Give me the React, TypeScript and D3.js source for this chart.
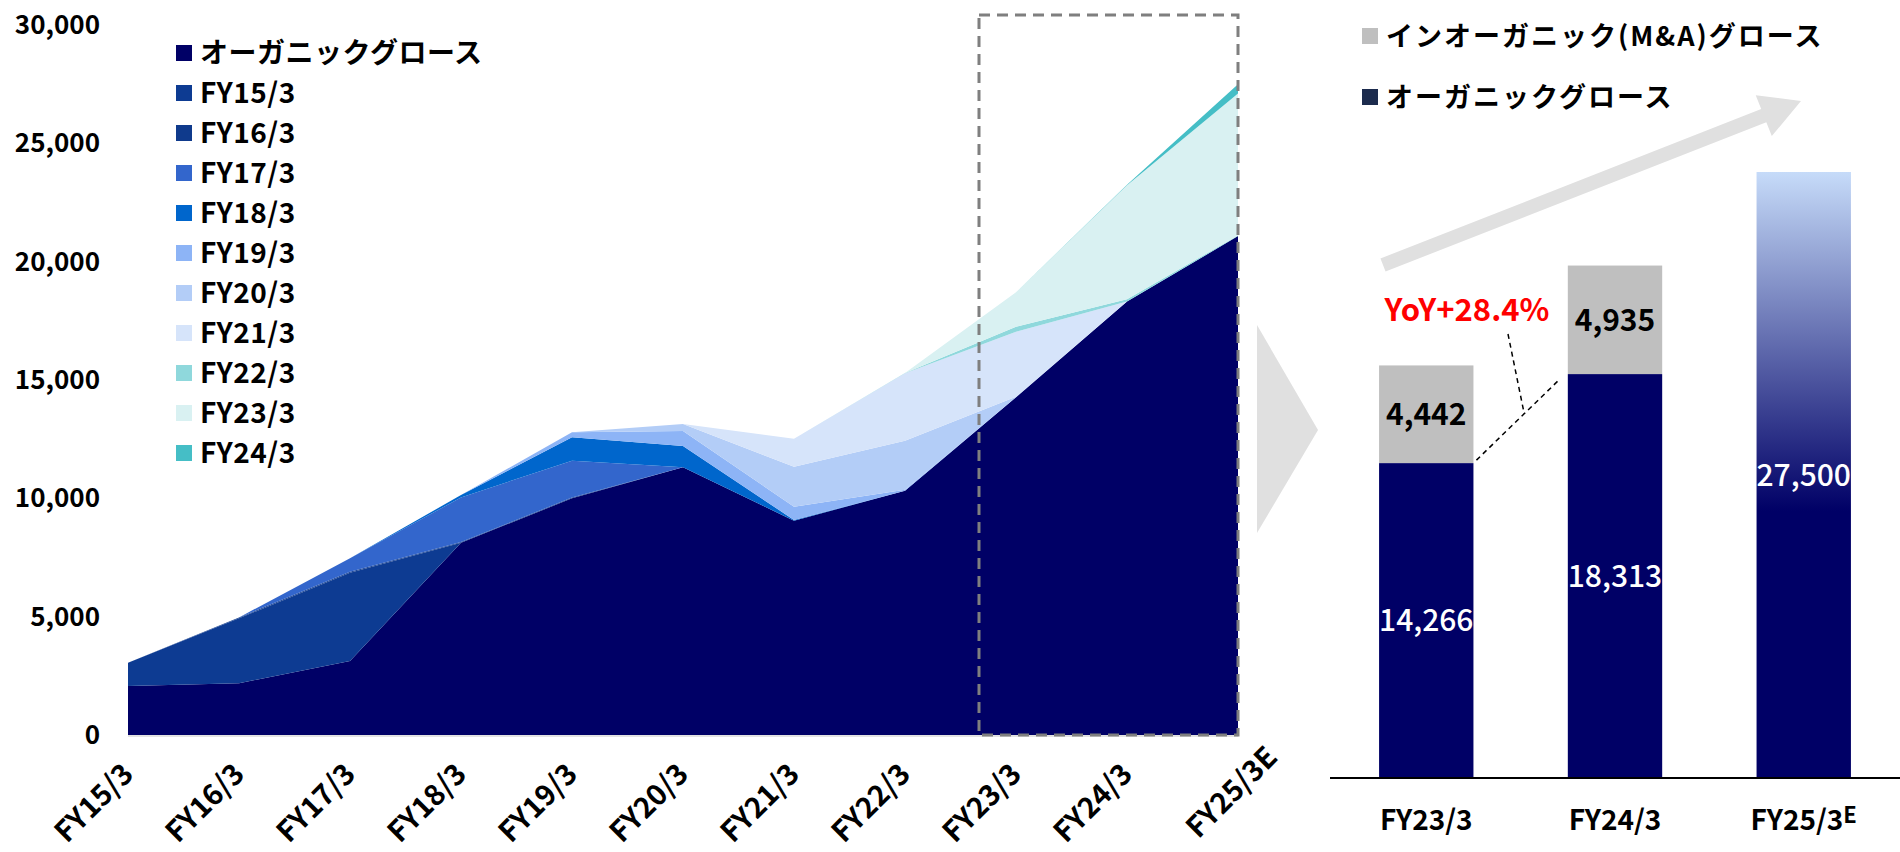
import React from 'react';
import * as d3 from 'd3';

// left chart: organic base + acquisition cohorts by year
const years = ['FY15/3', 'FY16/3', 'FY17/3', 'FY18/3', 'FY19/3', 'FY20/3', 'FY21/3', 'FY22/3', 'FY23/3', 'FY24/3', 'FY25/3E'];
const seriesNames = ['オーガニックグロース', 'FY15/3', 'FY16/3', 'FY17/3', 'FY18/3', 'FY19/3', 'FY20/3', 'FY21/3', 'FY22/3', 'FY23/3', 'FY24/3'];
const seriesColors = ['#000066', '#0d3b92', '#0f3a8c', '#3366cc', '#0066cc', '#8db4f6', '#b3cdf7', '#d6e4fa', '#8fd8dc', '#d9f1f2', '#45bec6'];

const organic = [2070, 2190, 3130, 8125, 10000, 11310, 9055, 10320, 14266, 18313, 21080];
const fy15 = [985, 2740, 3727, 0, 0, 0, 0, 0, 0, 0, 0];
const fy16 = [0, 40, 40, 30, 30, 0, 0, 0, 0, 0, 0];
const fy17 = [0, 0, 568, 1885, 1560, 0, 0, 0, 0, 0, 0];
const fy18 = [0, 0, 0, 100, 990, 900, 30, 0, 0, 0, 0];
const fy19 = [0, 0, 0, 0, 210, 630, 560, 40, 0, 0, 0];
const fy20 = [0, 0, 0, 0, 0, 300, 1690, 2070, 30, 0, 0];
const fy21 = [0, 0, 0, 0, 0, 0, 1185, 2850, 2744, 0, 0];
const fy22 = [0, 0, 0, 0, 0, 0, 0, 20, 210, 100, 30];
const fy23 = [0, 0, 0, 0, 0, 0, 0, 0, 1458, 4815, 6000];
const fy24 = [0, 0, 0, 0, 0, 0, 0, 0, 0, 20, 390];

const yTicks = [0, 5000, 10000, 15000, 20000, 25000, 30000];

// right chart
const barYears = ['FY23/3', 'FY24/3', 'FY25/3'];
const barOrganic = [14266, 18313];
const barInorganic = [4442, 4935];
const forecastTotal = 27500;
const barLegend = ['インオーガニック(M&A)グロース', 'オーガニックグロース'];
const barLegendColors = ['#bfbfbf', '#1c2b4d'];
const yoyLabel = 'YoY+28.4%';

const FONT = "'Noto Sans CJK JP', 'Noto Sans', sans-serif";
const fmt = d3.format(',');

const App: React.FC = () => {
    const allSeries = [organic, fy15, fy16, fy17, fy18, fy19, fy20, fy21, fy22, fy23, fy24];
    const rows = years.map((yr, i) => {
        const r: Record<string, number> = {};
        allSeries.forEach((s, k) => { r[String(k)] = s[i]; });
        return r;
    });
    const keys = allSeries.map((_, k) => String(k));
    const stacked = d3.stack<Record<string, number>>().keys(keys)(rows);

    const x = d3.scalePoint<string>().domain(years).range([128, 1238]);
    const y = d3.scaleLinear().domain([0, 30000]).range([735, 25]);

    const area = d3.area<d3.SeriesPoint<Record<string, number>>>()
        .x((_, i) => x(years[i]) as number)
        .y0(d => y(d[0]))
        .y1(d => y(d[1]));

    const step = x.step();
    const boxLeft = (x('FY23/3') as number) - step / 3;
    const boxRight = x('FY25/3E') as number;

    // right bars
    const bx = d3.scaleBand<string>().domain(barYears).range([1330, 1900]).paddingInner(0.5).paddingOuter(0.26);
    const by = d3.scaleLinear().domain([0, 30000]).range([777, 117]);
    const bw = bx.bandwidth();

    // leader lines between organic tops
    const ax0 = (bx('FY23/3') as number) + bw + 3;
    const ay0 = by(barOrganic[0]) - 3;
    const ax1 = (bx('FY24/3') as number) - 9;
    const ay1 = by(barOrganic[1]) + 6;
    const t = 0.58;
    const vx = ax0 + (ax1 - ax0) * t;
    const vy = ay0 + (ay1 - ay0) * t;

    // big arrow
    const tail: [number, number] = [1383, 265];
    const tip: [number, number] = [1801, 101];
    const ang = Math.atan2(tip[1] - tail[1], tip[0] - tail[0]);
    const ux = Math.cos(ang), uy = Math.sin(ang);
    const nx = -uy, ny = ux;
    const shaft = 7, head = 22, headLen = 40;
    const hb: [number, number] = [tip[0] - ux * headLen, tip[1] - uy * headLen];
    const arrowPts = [
        [tail[0] + nx * shaft, tail[1] + ny * shaft],
        [hb[0] + nx * shaft, hb[1] + ny * shaft],
        [hb[0] + nx * head, hb[1] + ny * head],
        tip,
        [hb[0] - nx * head, hb[1] - ny * head],
        [hb[0] - nx * shaft, hb[1] - ny * shaft],
        [tail[0] - nx * shaft, tail[1] - ny * shaft],
    ].map(p => p.join(',')).join(' ');

    return (
        <div style={{ position: 'absolute', left: 0, top: 0 }}>
            <svg width={1900} height={852} style={{ display: 'block', fontFamily: FONT }}>
                <defs>
                    <linearGradient id="fcst" x1="0" y1="0" x2="0" y2="1">
                        <stop offset="0%" stopColor="#c6dbf9" />
                        <stop offset="56%" stopColor="#000066" />
                        <stop offset="100%" stopColor="#000066" />
                    </linearGradient>
                </defs>

                {/* stacked areas */}
                {stacked.map((s, k) => (
                    <path key={k} d={area(s) || ''} fill={seriesColors[k]} />
                ))}
                <line x1={128} x2={1238} y1={736} y2={736} stroke="#d9d9d9" strokeWidth={1.5} />

                {/* y axis labels */}
                {yTicks.map(v => (
                    <text key={v} x={100} y={y(v) + 9} textAnchor="end" fontSize={26} fontWeight={700} fill="#000">
                        {fmt(v)}
                    </text>
                ))}

                {/* x axis labels (last one pushed up along its direction to stay on the page) */}
                {years.map((yr, i) => {
                    const last = i === years.length - 1;
                    const dx = last ? 34 : 0;
                    const dy = last ? -17 : 0;
                    return (
                        <text key={yr} transform={`translate(${(x(yr) as number) + 7 + dx},${776 + dy}) rotate(-45)`}
                              textAnchor="end" fontSize={29} fontWeight={700} fill="#000">
                            {yr}
                        </text>
                    );
                })}

                {/* legend */}
                {seriesNames.map((n, k) => (
                    <g key={n} transform={`translate(176,${53 + 40 * k})`}>
                        <rect x={0} y={-8} width={16} height={16} fill={seriesColors[k]} />
                        <text x={24} y={10} fontSize={28} fontWeight={700} letterSpacing={0.5} fill="#000">{n}</text>
                    </g>
                ))}

                {/* highlight box */}
                <rect x={boxLeft} y={y(30000) - 10} width={boxRight - boxLeft} height={y(0) - y(30000) + 10}
                      fill="none" stroke="#7f7f7f" strokeWidth={3} strokeDasharray="11 7" />

                {/* chevron */}
                <polygon points="1257,325 1318,430 1257,533" fill="#e0e0e0" />

                {/* right legend */}
                {barLegend.map((n, k) => (
                    <g key={n} transform={`translate(1362,${36 + 61 * k})`}>
                        <rect x={0} y={-8} width={16} height={16} fill={barLegendColors[k]} />
                        <text x={24} y={10} fontSize={27} fontWeight={700} letterSpacing={2} fill="#000">{n}</text>
                    </g>
                ))}

                {/* arrow */}
                <polygon points={arrowPts} fill="#e0e0e0" />

                {/* bars */}
                {barOrganic.map((v, i) => {
                    const bx0 = bx(barYears[i]) as number;
                    const inorgTop = by(v + barInorganic[i]);
                    return (
                        <g key={barYears[i]}>
                            <rect x={bx0} y={inorgTop} width={bw} height={by(v) - inorgTop} fill="#bfbfbf" />
                            <rect x={bx0} y={by(v)} width={bw} height={by(0) - by(v)} fill="#000066" />
                            <text x={bx0 + bw / 2} y={(inorgTop + by(v)) / 2 + 11} textAnchor="middle" fontSize={30} fontWeight={700} fill="#000">
                                {fmt(barInorganic[i])}
                            </text>
                            <text x={bx0 + bw / 2} y={(by(v) + by(0)) / 2 + 11} textAnchor="middle" fontSize={30} fontWeight={500} fill="#fff">
                                {fmt(v)}
                            </text>
                        </g>
                    );
                })}
                <rect x={bx('FY25/3') as number} y={by(forecastTotal)} width={bw} height={by(0) - by(forecastTotal)} fill="url(#fcst)" />
                <text x={(bx('FY25/3') as number) + bw / 2} y={(by(forecastTotal) + by(0)) / 2 + 11} textAnchor="middle"
                      fontSize={30} fontWeight={500} fill="#fff">
                    {fmt(forecastTotal)}
                </text>

                <line x1={1330} x2={1900} y1={by(0) + 1} y2={by(0) + 1} stroke="#000" strokeWidth={2} />

                {barYears.map((yr, i) => (
                    <text key={yr} x={(bx(yr) as number) + bw / 2} y={830} textAnchor="middle" fontSize={28} fontWeight={700} fill="#000">
                        {yr}
                        {i === 2 && <tspan fontSize={22} dy={-7}>E</tspan>}
                    </text>
                ))}

                {/* YoY annotation */}
                <text x={1467} y={321} textAnchor="middle" fontSize={31} fontWeight={700} fill="#ff0000">{yoyLabel}</text>
                <line x1={ax0} y1={ay0} x2={ax1} y2={ay1} stroke="#000" strokeWidth={1.5} strokeDasharray="5 4" />
                <line x1={1508} y1={334} x2={vx} y2={vy} stroke="#000" strokeWidth={1.5} strokeDasharray="5 4" />
            </svg>
        </div>
    );
};

export default App;
